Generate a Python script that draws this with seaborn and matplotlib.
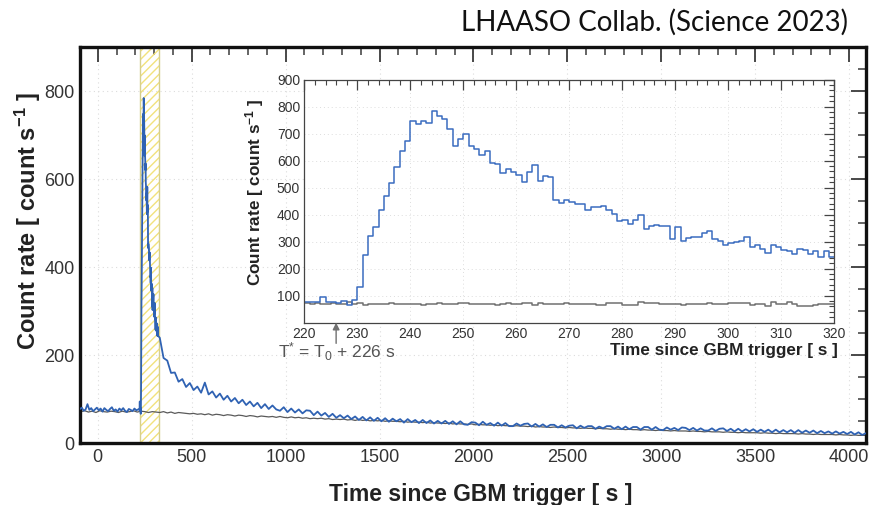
import numpy as np
import pandas as pd
import matplotlib
matplotlib.use("Agg")
import matplotlib.pyplot as plt
import seaborn as sns
from matplotlib.ticker import MultipleLocator, FixedLocator

# ---------------- data ----------------
# Inset: 1-s bins starting at 220 s
inset_start = 220
inset_blue = [76, 78, 78, 95, 76, 76, 73, 80, 67, 83,
              131, 249, 321, 354, 417, 470, 516, 575, 636, 672,
              748, 736, 748, 741, 785, 765, 753, 716, 654, 680,
              700, 654, 644, 621, 636, 593, 586, 553, 568, 559,
              546, 521, 557, 583, 526, 542, 540, 455, 444, 454,
              448, 441, 441, 416, 428, 428, 434, 417, 401, 378,
              380, 365, 380, 399, 347, 358, 363, 359, 359, 311,
              353, 303, 315, 319, 316, 333, 339, 309, 303, 288,
              294, 298, 303, 319, 282, 286, 273, 258, 286, 279,
              268, 266, 255, 273, 268, 255, 265, 244, 265, 245]
inset_gray = [72, 71, 73, 70, 71, 72, 70, 69, 76, 70,
              73, 66, 70, 71, 69, 70, 72, 68, 70, 69,
              69, 70, 67, 68, 70, 74, 68, 71, 70, 73,
              72, 70, 68, 71, 70, 68, 66, 70, 74, 68,
              70, 72, 73, 66, 72, 71, 70, 69, 71, 74,
              70, 70, 68, 70, 70, 66, 66, 74, 73, 74,
              66, 66, 66, 78, 73, 73, 73, 69, 71, 68,
              71, 67, 69, 69, 69, 70, 74, 71, 71, 69,
              73, 74, 74, 74, 66, 70, 70, 63, 78, 69,
              71, 76, 69, 62, 63, 63, 66, 68, 68, 69]

# Main panel, before the burst: 10-s bins starting at -100 s
main_pre_start = -100
main_pre_blue = [78, 81, 74, 77, 89, 76, 80, 73, 77, 81,
                 75, 79, 72, 80, 76, 73, 78, 82, 74, 77,
                 72, 79, 75, 80, 74, 71, 78, 76, 73, 79,
                 75, 77]
# Main panel, after the inset window: 20-s bins starting at 320 s
main_post_start = 320
main_post_blue = [240, 194, 188, 160, 161, 140, 146, 128, 137, 121,
                  129, 115, 138, 111, 118, 104, 113, 99, 108, 95,
                  103, 91, 99, 87, 95, 84, 92, 80, 89, 78,
                  86, 77, 74, 82, 71, 79, 70, 77, 68, 75,
                  74, 64, 72, 63, 69, 60, 67, 58, 64, 57,
                  63, 55, 61, 53, 60, 52, 59, 51, 58, 50,
                  57, 49, 56, 50, 55, 47, 55, 48, 53, 46,
                  53, 46, 52, 45, 51, 45, 51, 44, 50, 43,
                  50, 43, 42, 48, 47, 41, 49, 42, 46, 40,
                  47, 40, 46, 39, 39, 45, 40, 44, 45, 38,
                  44, 38, 43, 37, 42, 42, 36, 41, 36, 40,
                  41, 34, 40, 35, 39, 39, 33, 38, 34, 39,
                  39, 33, 38, 32, 38, 32, 37, 37, 31, 37,
                  37, 31, 37, 31, 30, 36, 31, 35, 30, 36,
                  35, 30, 35, 29, 34, 29, 29, 34, 28, 33,
                  34, 28, 33, 27, 33, 27, 32, 27, 32, 26,
                  31, 26, 31, 25, 31, 25, 30, 25, 30, 24,
                  30, 24, 29, 24, 29, 23, 28, 23, 27, 22,
                  27, 22, 26, 21, 26, 20, 25, 19, 23]
# Main panel background (gray): 20-s bins starting at -100 s
main_gray_start = -100
main_gray = [72, 74, 71, 73, 70, 74, 72, 71, 73, 72,
             70, 73, 71, 72, 74, 71, 73, 72, 70, 72,
             71, 70, 72, 69, 71, 68, 70, 69, 68, 67,
             68, 66, 67, 65, 67, 64, 66, 65, 63, 65,
             64, 62, 64, 63, 61, 63, 62, 60, 62, 61,
             60, 61, 59, 61, 59, 58, 60, 58, 59, 57,
             58, 56, 57, 56, 57, 55, 56, 54, 55, 54,
             55, 53, 54, 52, 54, 52, 53, 51, 52, 51,
             52, 50, 51, 50, 50, 49, 50, 48, 49, 48,
             48, 47, 48, 46, 47, 46, 46, 45, 46, 44,
             45, 44, 44, 43, 44, 42, 43, 42, 42, 41,
             42, 40, 41, 40, 40, 39, 40, 39, 39, 38,
             39, 37, 38, 37, 37, 36, 37, 36, 36, 35,
             36, 35, 35, 34, 35, 34, 34, 33, 34, 33,
             33, 32, 33, 32, 32, 31, 32, 31, 31, 30,
             31, 30, 30, 29, 30, 29, 29, 28, 29, 28,
             28, 28, 27, 28, 27, 27, 26, 27, 26, 26,
             26, 25, 26, 25, 25, 24, 25, 24, 24, 24,
             24, 23, 24, 23, 23, 22, 23, 22, 22, 22,
             22, 21, 22, 21, 21, 20, 21, 20, 20, 20,
             20, 19, 20, 19, 19, 18, 19, 18, 18, 18]

band_range = [226, 326]
trigger_offset = 226
main_xticks = [0, 500, 1000, 1500, 2000, 2500, 3000, 3500, 4000]
main_yticks = [0, 200, 400, 600, 800]
inset_xticks = [220, 230, 240, 250, 260, 270, 280, 290, 300, 310, 320]
inset_yticks = [100, 200, 300, 400, 500, 600, 700, 800, 900]

title_text = "LHAASO Collab. (Science 2023)"
xlabel_text = "Time since GBM trigger [ s ]"
ylabel_text = r"Count rate [ count s$^{\mathbf{-1}}$ ]"
tstar_text = r"T$^{*}$ = T$_{0}$ + 226 s"

# ---------------- styling ----------------
sns.set_theme(style="white")
plt.rcParams["font.family"] = ["Liberation Sans", "DejaVu Sans"]
plt.rcParams["mathtext.fontset"] = "custom"
plt.rcParams["mathtext.rm"] = "Liberation Sans"
plt.rcParams["mathtext.it"] = "Liberation Sans"
plt.rcParams["mathtext.bf"] = "Liberation Sans:bold"
plt.rcParams["hatch.linewidth"] = 1.0

BLUE = "#2f62b3"
BLUE_IN = "#3a6cc0"
GRAY = "#5a5a5a"
GRAY_IN = "#707070"

fig = plt.figure(figsize=(8.71, 5.05), dpi=100)
ax = fig.add_axes([0.0918, 0.1222, 0.9024, 0.7838])

# ---- main panel data frames (bin centres) ----
t_pre = main_pre_start + 10 * np.arange(len(main_pre_blue)) + 5
t_in = inset_start + np.arange(len(inset_blue)) + 0.5
t_post = main_post_start + 20 * np.arange(len(main_post_blue)) + 10
df_blue = pd.DataFrame({
    "t": np.concatenate([t_pre, t_in, t_post]),
    "rate": np.concatenate([main_pre_blue, inset_blue, main_post_blue]),
})
t_g = main_gray_start + 20 * np.arange(len(main_gray)) + 10
df_gray = pd.DataFrame({"t": t_g, "rate": main_gray})

# highlighted window
ax.axvspan(band_range[0], band_range[1], facecolor="none", edgecolor="#f2e27c",
           hatch="////", lw=0, zorder=1)
for xb in band_range:
    ax.axvline(xb, color="#d6cf8c", lw=1.0, zorder=1)

sns.lineplot(data=df_gray, x="t", y="rate", ax=ax, color=GRAY, lw=0.9,
             estimator=None, sort=False, zorder=2)
sns.lineplot(data=df_blue, x="t", y="rate", ax=ax, color=BLUE, lw=1.3,
             estimator=None, sort=False, zorder=3)

ax.set_xlim(-95, 4090)
ax.set_ylim(0, 900)
ax.xaxis.set_major_locator(FixedLocator(main_xticks))
ax.xaxis.set_minor_locator(MultipleLocator(100))
ax.yaxis.set_major_locator(FixedLocator(main_yticks))
ax.yaxis.set_minor_locator(MultipleLocator(50))
ax.tick_params(which="both", direction="in", top=True, right=True,
               color="#3a3a3a")
ax.tick_params(which="major", length=11, width=1.3, labelsize=13,
               labelcolor="#333333", pad=4)
ax.tick_params(which="minor", length=5.5, width=1.1)
ax.grid(True, which="major", ls=(0, (1, 3)), color="#dcdcdc", lw=0.8)
for s in ax.spines.values():
    s.set_linewidth(2.4)
    s.set_color("#111111")

ax.set_xlabel(xlabel_text, fontsize=16.5, fontweight="bold", color="#222222")
ax.xaxis.set_label_coords(0.51, -0.10)
ax.set_ylabel(ylabel_text, fontsize=17, fontweight="bold", color="#222222")
ax.yaxis.set_label_coords(-0.047, 0.562)

# ---- inset ----
ax_in = fig.add_axes([0.3494, 0.361, 0.6085, 0.4812], zorder=5)
ax_in.set_facecolor("white")
t_edges = inset_start + np.arange(len(inset_blue) + 1)
df_in = pd.DataFrame({"t": np.concatenate([t_edges, t_edges]),
                      "rate": np.concatenate([inset_gray, [inset_gray[-1]],
                                              inset_blue, [inset_blue[-1]]]),
                      "series": ["bkg"] * len(t_edges) + ["grb"] * len(t_edges)})
sns.lineplot(data=df_in, x="t", y="rate", hue="series", ax=ax_in,
             palette={"bkg": GRAY_IN, "grb": BLUE_IN}, lw=1.1,
             drawstyle="steps-post", estimator=None, sort=False, legend=False)
ax_in.set_xlim(inset_xticks[0], inset_xticks[-1])
ax_in.set_ylim(0, 900)
ax_in.xaxis.set_major_locator(FixedLocator(inset_xticks))
ax_in.xaxis.set_minor_locator(MultipleLocator(2))
ax_in.yaxis.set_major_locator(FixedLocator(inset_yticks))
ax_in.yaxis.set_minor_locator(MultipleLocator(20))
ax_in.tick_params(which="both", direction="in", top=True, right=True,
                  color="#444444")
ax_in.tick_params(which="major", length=7, width=0.9, labelsize=10,
                  labelcolor="#333333", pad=3)
ax_in.tick_params(which="minor", length=3.5, width=0.8)
ax_in.grid(True, which="major", ls=(0, (1, 3)), color="#dddddd", lw=0.7)
for s in ax_in.spines.values():
    s.set_linewidth(0.9)
    s.set_color("#444444")

ax_in.set_xlabel(xlabel_text, fontsize=12.3, fontweight="bold", color="#222222")
ax_in.xaxis.label.set_ha("right")
ax_in.xaxis.set_label_coords(1.007, -0.085)
ax_in.set_ylabel(ylabel_text, fontsize=12.3, fontweight="bold", color="#222222")
ax_in.yaxis.set_label_coords(-0.072, 0.536)

ax_in.annotate("", xy=(trigger_offset, 0), xycoords=("data", "axes fraction"),
               xytext=(trigger_offset, -0.085), textcoords=("data", "axes fraction"),
               arrowprops=dict(arrowstyle="-|>", color="#707070", lw=1.0,
                               mutation_scale=10, shrinkA=0, shrinkB=0),
               annotation_clip=False)
ax_in.text(-0.05, -0.12, tstar_text, transform=ax_in.transAxes, ha="left",
           va="center", fontsize=12.5, color="#555555")

fig.text(0.9736, 0.956, title_text, ha="right", va="center", fontsize=20,
         family=["Lato", "DejaVu Sans"], color="#111111")

fig.savefig("out.png", dpi=100)
